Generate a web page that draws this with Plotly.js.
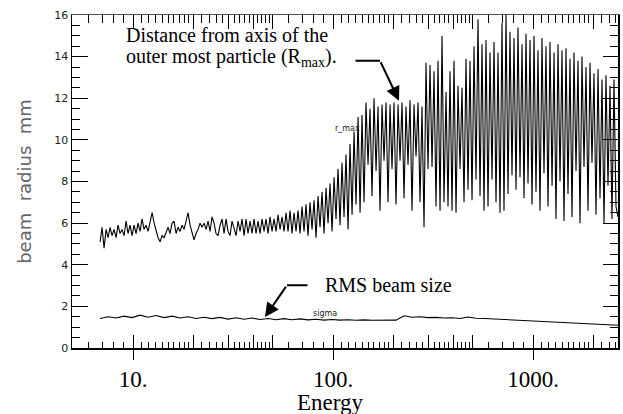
<!DOCTYPE html>
<html>
<head>
<meta charset="utf-8">
<script src="https://cdn.plot.ly/plotly-3.0.1.min.js"></script>
<style>html,body{margin:0;padding:0;background:#fff;}#chart{width:623px;height:414px;}</style>
</head>
<body>
<div id="chart"></div>
<script>
// Energy samples for r_max
const energy = [
6.839, 6.998, 7.161, 7.328, 7.499, 7.674, 7.852, 8.035, 8.222, 8.414, 8.610, 8.810, 9.016, 9.226, 9.441, 9.661, 9.886,
10.12, 10.35, 10.59, 10.84, 11.09, 11.35, 11.61, 11.89, 12.16, 12.45,
12.74, 13.03, 13.34, 13.65, 13.96, 14.29, 14.62, 14.96, 15.31, 15.67,
16.03, 16.41, 16.79, 17.18, 17.58, 17.99, 18.41, 18.84, 19.28, 19.72,
20.18, 20.65, 21.14, 21.63, 22.13, 22.65, 23.17, 23.71, 24.27, 24.83,
25.41, 26.00, 26.61, 27.23, 27.86, 28.51, 29.17, 29.85, 30.55, 31.26,
31.99, 32.73, 33.50, 34.28, 35.08, 35.89, 36.73, 37.58, 38.46, 39.36,
40.27, 41.21, 42.17, 43.15, 44.16, 45.19, 46.24, 47.32, 48.42, 49.55,
50.70, 51.88, 53.09, 54.33, 55.59, 56.89, 58.21, 59.57, 60.95, 62.37,
63.83, 65.31, 66.83, 68.39, 69.98, 71.61, 73.28, 74.99, 76.74, 78.52,
80.35, 82.22, 84.14, 86.10, 88.11, 90.16, 92.26, 94.41, 96.61, 98.86,
101.2, 103.5, 105.9, 108.4, 110.9, 113.5, 116.1, 118.9, 121.6, 124.5,
127.4, 130.3, 133.4, 136.5, 139.6, 142.9, 146.2, 149.6, 153.1, 156.7,
160.3, 164.1, 167.9, 171.8, 175.8, 179.9, 184.1, 188.4, 192.8, 197.2,
201.8, 206.5, 211.4, 216.3, 221.3, 226.5, 231.7, 237.1, 242.7, 248.3,
254.1, 260.0, 266.1, 272.3, 278.6, 285.1, 291.7, 298.5, 305.5, 312.6,
319.9, 327.3, 335.0, 342.8, 350.8, 358.9, 367.3, 375.8, 384.6, 393.6,
402.7, 412.1, 421.7, 431.5, 441.6, 451.9, 462.4, 473.2, 484.2, 495.5,
507.0, 518.8, 530.9, 543.3, 555.9, 568.9, 582.1, 595.7, 609.5, 623.7,
638.3, 653.1, 668.3, 683.9, 699.8, 716.1, 732.8, 749.9, 767.4, 785.2,
803.5, 822.2, 841.4, 861.0, 881.1, 901.6, 922.6, 944.1, 966.1, 988.6,
1012, 1035, 1059, 1084, 1109, 1135, 1161, 1189, 1216, 1245,
1274, 1303, 1334, 1365, 1396, 1429, 1462, 1496, 1531, 1567,
1603, 1641, 1679, 1718, 1758, 1799, 1841, 1884, 1928, 1972,
2018, 2065, 2114, 2163, 2213, 2265, 2317, 2371, 2427, 2483,
2541, 2600, 2661
];

// Outer-most particle radius (mm)
const rMax = [
5.1,5.8,4.8,5.7,5.3,5.8,5.4,5.7,5.3,5.9,5.5,5.7,5.4,6.1,5.5,5.9,5.4,
5.9,5.5,6.0,5.6,6.2,5.7,5.9,5.6,6.1,6.5,6.0,5.6,5.3,5.1,5.4,5.3,5.6,5.8,5.5,6.0,
6.1,5.5,5.8,5.6,5.9,5.7,6.1,6.5,5.9,5.5,5.2,5.5,5.7,6.0,5.8,6.0,5.7,6.1,5.6,6.3,
6.0,5.5,5.4,5.9,6.2,5.5,
6.2,5.6,5.4,6.1,5.8,5.4,6.1,5.6,6.2,5.4,
6.2,5.5,6.1,5.5,6.2,5.5,6.1,5.5,6.2,5.6,
6.2,5.5,6.3,5.6,6.2,5.6,6.4,5.7,6.3,5.6,
6.5,5.6,6.6,5.5,
6.5,5.6,6.6,5.5,6.8,5.6,6.9,5.4,7.0,5.7,
7.1,5.3,7.3,5.8,7.5,5.5,7.7,6.0,7.9,5.6,
8.2,6.2,8.6,5.9,8.9,6.3,9.3,5.7,9.8,6.4,
10.4,6.9,11.1,6.5,11.2,7.0,11.8,8.8,11.5,7.3,
12.0,8.5,11.6,6.6,11.7,9.0,11.8,7.0,11.7,8.6,
11.8,6.9,11.7,9.0,11.8,7.2,11.6,8.8,11.9,6.6,
11.7,9.2,11.8,7.0,11.6,5.8,
13.7,8.6,13.6,8.7,13.3,6.8,13.8,6.6,15.0,7.0,
12.3,6.8,13.3,6.6,13.8,6.5,12.6,8.6,12.5,7.0,
13.9,7.6,13.8,7.1,14.5,8.1,15.8,7.3,14.6,6.6,
14.8,6.8,14.2,8.1,14.7,7.0,14.2,6.5,15.6,6.6,
16.0,7.4,
15.2,8.3,14.9,7.6,15.4,8.2,14.6,7.2,15.1,7.9,
14.8,6.9,15.0,7.5,14.3,6.6,14.9,8.4,14.5,6.8,
14.7,7.8,14.2,6.2,14.6,8.0,14.3,6.1,14.4,7.4,
13.9,6.3,14.2,8.5,13.8,6.0,14.0,8.7,13.5,6.6,
13.7,8.9,13.2,6.4,13.4,7.2,12.9,6.0,13.1,7.8,
12.6,6.2,12.9,6.8,6.3
];

// Energy samples for RMS beam size
const sigmaEnergy = [
6.839, 7.499, 8.222, 9.016, 9.886, 10.84, 11.89, 13.03, 14.29, 15.67,
17.18, 18.84, 20.65, 22.65, 24.83, 27.23, 29.85, 32.73, 35.89, 39.36,
43.15, 47.32, 51.88, 56.89, 62.37, 68.39, 74.99, 82.22, 90.16, 98.86,
108.4, 118.9, 130.3, 142.9, 156.7, 171.8, 188.4, 206.5, 226.5, 248.3,
272.3, 298.5, 327.3, 358.9, 393.6, 431.5, 473.2, 518.8, 568.9, 623.7,
683.9, 749.9, 822.2, 901.6, 988.6, 1084, 1189, 1303, 1429, 1567,
1718, 1884, 2065, 2265, 2483, 2661
];
// RMS beam size (mm)
const sigma = [
1.42, 1.50, 1.44, 1.53, 1.46, 1.58, 1.48, 1.56, 1.46, 1.53,
1.44, 1.50, 1.42, 1.48, 1.41, 1.47, 1.39, 1.45, 1.38, 1.44,
1.37, 1.42, 1.36, 1.41, 1.36, 1.40, 1.35, 1.38, 1.34, 1.37,
1.34, 1.36, 1.33, 1.35, 1.33, 1.34, 1.33, 1.34, 1.55, 1.48,
1.50, 1.46, 1.47, 1.44, 1.45, 1.42, 1.49, 1.43, 1.42, 1.40,
1.39, 1.37, 1.35, 1.34, 1.31, 1.29, 1.27, 1.24, 1.22, 1.20,
1.18, 1.16, 1.14, 1.12, 1.10, 1.09
];

const xTickVals = [10, 100, 1000];
const xTickText = ['10.', '100.', '1000.'];
const xTallTicks = [10, 20, 30, 40, 50, 100, 200, 300, 400, 500, 1000, 2000];

// minor tick positions (axis decoration)
const xMinorTicks = [6, 7, 8, 9];
[10, 100, 1000].forEach(function (d) {
  for (let i = 11; i <= 19; i++) xMinorTicks.push(i * d / 10);
  for (let i = 22; i <= 48; i += 2) xMinorTicks.push(i * d / 10);
  for (let i = 6; i <= 9; i++) xMinorTicks.push(i * d);
});

const xRange = [Math.log10(4.95), Math.log10(2661)];
const yRange = [0, 16];
const serif = 'Liberation Serif, Times New Roman, serif';
const sans = 'DejaVu Sans, sans-serif';

function emptyTrace(xa, ya) {
  return {x: [], y: [], type: 'scatter', mode: 'lines', xaxis: xa, yaxis: ya, hoverinfo: 'skip', showlegend: false};
}

const traces = [
  {x: energy, y: rMax, type: 'scatter', mode: 'lines', xaxis: 'x', yaxis: 'y',
   line: {color: '#000', width: 1.1}, hoverinfo: 'skip', showlegend: false},
  {x: sigmaEnergy, y: sigma, type: 'scatter', mode: 'lines', xaxis: 'x2', yaxis: 'y',
   line: {color: '#000', width: 1.1}, hoverinfo: 'skip', showlegend: false},
  emptyTrace('x3', 'y'), emptyTrace('x4', 'y'), emptyTrace('x5', 'y'), emptyTrace('x', 'y2')
];

function px(xp) { return (xp - 72) / 546; }
function py(yp) { return (348 - yp) / 334; }

function tickAxis(side, vals, len, extra) {
  return Object.assign({
    type: 'log', range: xRange, overlaying: 'x', anchor: 'y', side: side,
    showgrid: false, zeroline: false, showline: false,
    tickmode: 'array', tickvals: vals, ticks: 'inside', ticklen: len, tickwidth: 1, tickcolor: '#000',
    showticklabels: false
  }, extra || {});
}

const layout = {
  width: 623, height: 414,
  margin: {l: 72, r: 5, t: 15, b: 66},
  paper_bgcolor: '#fff', plot_bgcolor: '#fff',
  showlegend: false,
  xaxis: {
    type: 'log', range: xRange, showgrid: false, zeroline: false,
    showline: true, linecolor: '#000', linewidth: 1.5,
    tickmode: 'array', tickvals: xTickVals, ticktext: xTickText,
    ticks: 'outside', ticklen: 10, tickwidth: 1, tickcolor: '#000',
    tickfont: {family: serif, size: 23, color: '#000'}
  },
  xaxis2: tickAxis('top', xTallTicks, 14, {showline: true, linecolor: '#555', linewidth: 1.5}),
  xaxis3: tickAxis('bottom', xTallTicks, 13),
  xaxis4: tickAxis('bottom', xMinorTicks, 6),
  xaxis5: tickAxis('top', xMinorTicks, 8),
  yaxis: {
    range: yRange, dtick: 2, tick0: 0, showgrid: false, zeroline: false,
    showline: true, linecolor: '#000', linewidth: 1.5,
    ticks: 'inside', ticklen: 16, tickwidth: 1, tickcolor: '#000',
    tickfont: {family: sans, size: 11, color: '#222'},
    minor: {dtick: 0.5, ticks: 'inside', ticklen: 8, tickwidth: 1, tickcolor: '#000', showgrid: false},
    title: {text: 'beam  radius  mm', font: {family: sans, size: 18, color: '#666'}, standoff: 18}
  },
  yaxis2: {
    range: yRange, dtick: 2, tick0: 0, overlaying: 'y', anchor: 'x', side: 'right',
    showgrid: false, zeroline: false, showline: true, linecolor: '#000', linewidth: 1.5,
    ticks: 'inside', ticklen: 15, tickwidth: 1, tickcolor: '#000', showticklabels: false,
    minor: {dtick: 0.5, ticks: 'inside', ticklen: 8, tickwidth: 1, tickcolor: '#000', showgrid: false}
  },
  annotations: [
    {xref: 'paper', yref: 'paper', x: px(330), y: py(403), xanchor: 'center', yanchor: 'middle',
     text: 'Energy', showarrow: false, font: {family: serif, size: 23, color: '#000'}},
    {xref: 'paper', yref: 'paper', x: px(124), y: py(34), xanchor: 'left', yanchor: 'middle',
     text: 'Distance from axis of the', showarrow: false, font: {family: serif, size: 20, color: '#000'}},
    {xref: 'paper', yref: 'paper', x: px(124), y: py(57), xanchor: 'left', yanchor: 'middle',
     text: 'outer most particle (R<sub>max</sub>).', showarrow: false, font: {family: serif, size: 20, color: '#000'}},
    {xref: 'paper', yref: 'paper', x: px(399), y: py(100), text: '', showarrow: true,
     ax: -19, ay: -40, arrowhead: 2, arrowsize: 1.4, arrowwidth: 2, arrowcolor: '#000'},
    {xref: 'paper', yref: 'paper', x: px(380), y: py(60), text: '', showarrow: true,
     ax: -26, ay: 0, arrowhead: 0, arrowwidth: 2, arrowcolor: '#000'},
    {xref: 'paper', yref: 'paper', x: px(388), y: py(285), xanchor: 'center', yanchor: 'middle',
     text: 'RMS beam size', showarrow: false, font: {family: serif, size: 20, color: '#000'}},
    {xref: 'paper', yref: 'paper', x: px(265), y: py(317), text: '', showarrow: true,
     ax: 22, ay: -32, arrowhead: 2, arrowsize: 1.4, arrowwidth: 2, arrowcolor: '#000'},
    {xref: 'paper', yref: 'paper', x: px(287), y: py(285), text: '', showarrow: true,
     ax: 22, ay: 0, arrowhead: 0, arrowwidth: 2, arrowcolor: '#000'},
    {xref: 'paper', yref: 'paper', x: px(347), y: py(128), xanchor: 'center', yanchor: 'middle',
     text: 'r_max', showarrow: false, font: {family: sans, size: 8, color: '#222'}},
    {xref: 'paper', yref: 'paper', x: px(325), y: py(313), xanchor: 'center', yanchor: 'middle',
     text: 'sigma', showarrow: false, font: {family: sans, size: 8, color: '#222'}}
  ]
};

Plotly.newPlot('chart', traces, layout, {staticPlot: true, displayModeBar: false});
</script>
</body>
</html>
